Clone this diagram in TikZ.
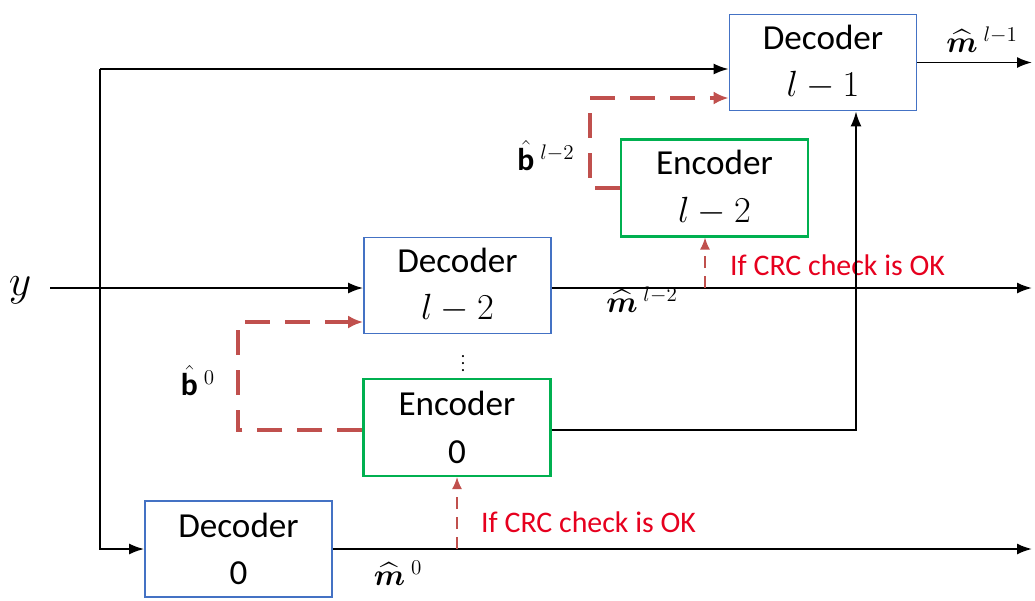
\documentclass[tikz,border=0pt]{standalone}
\usepackage{amsmath,amssymb,amsfonts}
\usepackage{bm}
\usepackage{fontspec}
\setmainfont{Carlito}
\usetikzlibrary{positioning}
\usetikzlibrary{calc}
\usetikzlibrary{arrows.meta}
\definecolor{boxblue}{RGB}{68,114,196}
\definecolor{boxgreen}{RGB}{0,176,80}
\definecolor{fbred}{RGB}{192,80,77}
\definecolor{crcred}{RGB}{230,0,30}

\begin{document}
\begin{tikzpicture}
		[
			x = 0.02cm, y = -0.02cm,
			decoder/.style = {rectangle, draw = boxblue, line width = 1pt, fill = white, minimum width = 3.74cm, minimum height = 1.92cm, align = center, font = \fontsize{20}{27}\selectfont},
			encoder/.style = {rectangle, draw = boxgreen, line width = 1.2pt, fill = white, minimum width = 3.74cm, minimum height = 1.94cm, align = center, font = \fontsize{20}{27}\selectfont},
			signal/.style = {line width = 1.1pt, -{Latex[length = 3mm, width = 2.2mm]}},
			feedback/.style = {line width = 1.8pt, fbred, dash pattern = on 5mm off 3mm, -{Latex[length = 3mm, width = 2.6mm]}},
			crc/.style = {line width = 0.9pt, fbred, dash pattern = on 2.5mm off 1.5mm, -{Latex[length = 2.4mm, width = 2mm]}},
			crctext/.style = {crcred, font = \fontsize{17}{20}\selectfont},
			lbl/.style = {font = \fontsize{18}{22}\selectfont, inner sep = 1pt},
		]
			\useasboundingbox (0,0) rectangle (1035,600);
			%
			\node (dectop) [decoder] at (823,62.5) {Decoder\\$l-1$};
			\node (enctop) [encoder] at (714.5,188) {Encoder\\$l-2$};
			\node (decmid) [decoder] at (457.5,285.5) {Decoder\\$l-2$};
			\node (encmid) [encoder] at (457,427.5) {Encoder\\0};
			\node (decbot) [decoder] at (238.5,549) {Decoder\\0};
			%
			\node (dots) at (463,358) {$\vdots$};
			\node (ylbl) [font = \fontsize{24}{26}\selectfont] at (20,290) {$y$};
			\node (mtop) [lbl] at (982,40) {$\widehat{\bm{m}}^{\;l-1}$};
			\node (mmid) [lbl] at (642,300) {$\widehat{\bm{m}}^{\;l-2}$};
			\node (mbot) [lbl] at (398,573) {$\widehat{\bm{m}}^{\;0}$};
			\node (btop) [lbl] at (546,156) {$\hat{\mathbf{b}}^{\;l-2}$};
			\node (bbot) [lbl] at (198,381) {$\hat{\mathbf{b}}^{\;0}$};
			\node (crctop) [crctext, anchor = west] at (724,265) {If CRC check is OK};
			\node (crcbot) [crctext, anchor = west] at (475,522) {If CRC check is OK};
			%
			\coordinate (auxY) at (50,288);
			\coordinate (auxT) at (100,69);
			\coordinate (auxB) at (100,549);
			\coordinate (auxR) at (1032,288);
			\coordinate (auxO) at (1032,62.5);
			\coordinate (auxZ) at (1032,549);
			\coordinate (auxK) at (856,430);
			\coordinate (auxC) at (590,188);
			\coordinate (auxD) at (590,98);
			\coordinate (auxF) at (238,430);
			\coordinate (auxG) at (238,322);
			\coordinate (auxE) at (705,288);
			\coordinate (auxH) at (457,549);
			%
			\draw [signal] (auxY) -- (decmid.west |- auxY);
			\draw [signal] (decmid.east |- auxY) -- (auxR);
			\draw [signal] (auxT) -- (dectop.west |- auxT);
			\draw [signal] (auxT) -- (auxB) -- (decbot.west);
			\draw [signal] (dectop.east) -- (auxO);
			\draw [signal] (decbot.east) -- (auxZ);
			\draw [signal] (encmid.east |- auxK) -- (auxK) -- (auxK |- dectop.south);
			%
			\draw [feedback] (enctop.west) -- (auxC) -- (auxD) -- (dectop.west |- auxD);
			\draw [feedback] (encmid.west |- auxF) -- (auxF) -- (auxG) -- (decmid.west |- auxG);
			%
			\draw [crc] (auxE) -- (auxE |- enctop.south);
			\draw [crc] (auxH) -- (auxH |- encmid.south);
			%
		\end{tikzpicture}
\end{document}
